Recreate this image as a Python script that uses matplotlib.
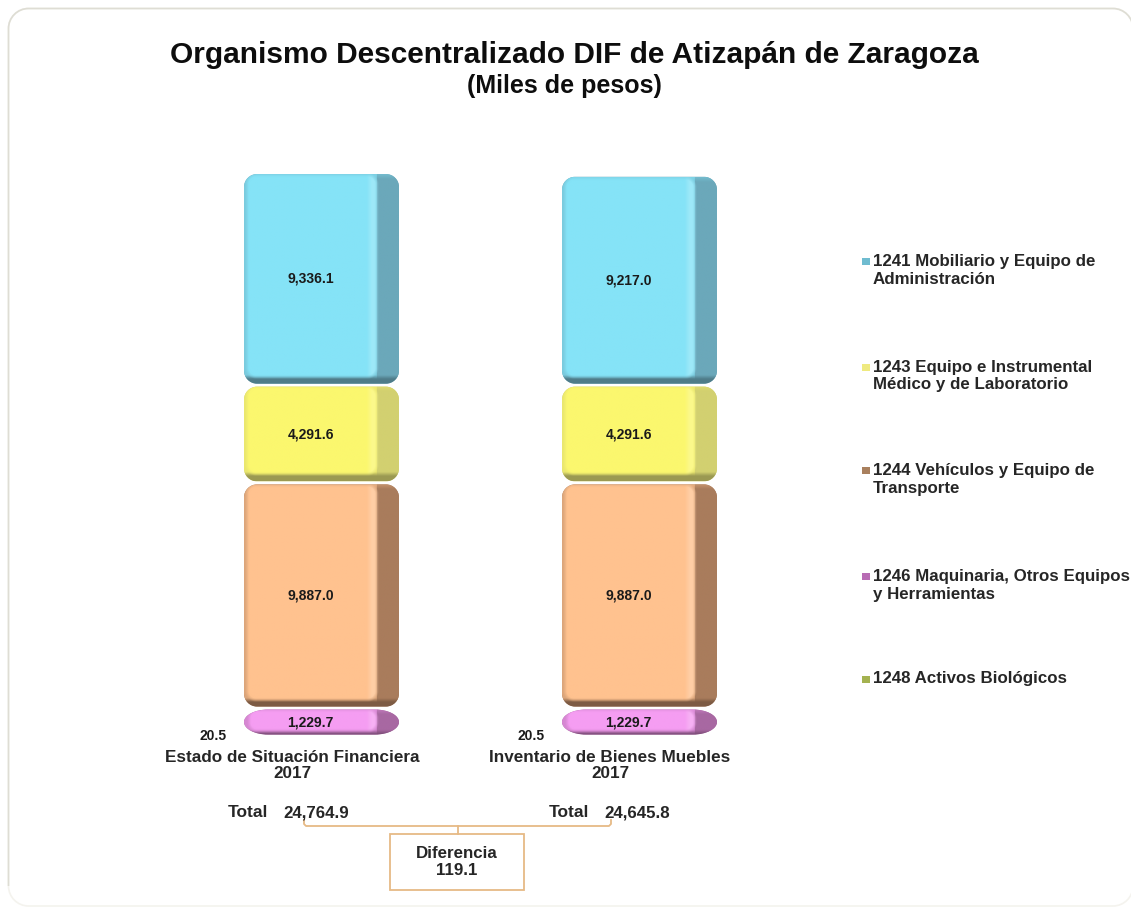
import numpy as np
import matplotlib
matplotlib.use("Agg")
import matplotlib.pyplot as plt
from matplotlib.patches import PathPatch, Rectangle
from matplotlib.path import Path
from matplotlib.colors import to_rgb

plt.rcParams['font.family'] = ['Liberation Sans', 'DejaVu Sans']

# ---- data ----
categories = ["Estado de Situación Financiera\n2017", "Inventario de Bienes Muebles\n2017"]
series_names = ["1241 Mobiliario y Equipo de\nAdministración",
                "1243 Equipo e Instrumental\nMédico y de Laboratorio",
                "1244 Vehículos y Equipo de\nTransporte",
                "1246 Maquinaria, Otros Equipos\ny Herramientas",
                "1248 Activos Biológicos"]
v1241 = [9336.1, 9217.0]
v1243 = [4291.6, 4291.6]
v1244 = [9887.0, 9887.0]
v1246 = [1229.7, 1229.7]
v1248 = [20.5, 20.5]
totals = ["24,764.9", "24,645.8"]
difference = "119.1"

front = ["#85E3F7", "#FBF76E", "#FFC28F", "#F59DF2", "#C9D65A"]
side = ["#6BA8BA", "#D2D070", "#A97C5C", "#A868A2", "#8C9A40"]
marker = ["#6FBCD0", "#EFEA80", "#A9805E", "#B86CB4", "#A4B250"]
text_dark = "#1A1A1A"
text_grey = "#262626"

W, H = 1131, 910
fig = plt.figure(figsize=(W/100, H/100), dpi=100, facecolor="white")
px = fig.add_axes([0, 0, 1, 1], zorder=0)
px.set_xlim(0, W); px.set_ylim(H, 0); px.axis("off")


def rounded_path(x0, y0, x1, y1, rx, ry):
    k = 0.5523
    v = [(x0 + rx, y0), (x1 - rx, y0),
         (x1 - rx + k*rx, y0), (x1, y0 + ry - k*ry), (x1, y0 + ry),
         (x1, y1 - ry),
         (x1, y1 - ry + k*ry), (x1 - rx + k*rx, y1), (x1 - rx, y1),
         (x0 + rx, y1),
         (x0 + rx - k*rx, y1), (x0, y1 - ry + k*ry), (x0, y1 - ry),
         (x0, y0 + ry),
         (x0, y0 + ry - k*ry), (x0 + rx - k*rx, y0), (x0 + rx, y0),
         (x0 + rx, y0)]
    c = [Path.MOVETO, Path.LINETO, Path.CURVE4, Path.CURVE4, Path.CURVE4, Path.LINETO,
         Path.CURVE4, Path.CURVE4, Path.CURVE4, Path.LINETO, Path.CURVE4, Path.CURVE4,
         Path.CURVE4, Path.LINETO, Path.CURVE4, Path.CURVE4, Path.CURVE4, Path.CLOSEPOLY]
    return Path(v, c)


# card: faint full outline, stronger top and left edges
px.add_patch(PathPatch(rounded_path(8.5, 8.5, 1133, 906, 20, 20), fc="#FFFFFF", ec="#F4F3EE", lw=1.2))
k20 = 20 * 0.5523
edge_path = Path([(8.5, 886), (8.5, 28.5), (8.5, 28.5 - k20), (28.5 - k20, 8.5), (28.5, 8.5),
                  (1113, 8.5), (1113 + k20, 8.5), (1133, 28.5 - k20), (1133, 28.5)],
                 [Path.MOVETO, Path.LINETO, Path.CURVE4, Path.CURVE4, Path.CURVE4,
                  Path.LINETO, Path.CURVE4, Path.CURVE4, Path.CURVE4])
px.add_patch(PathPatch(edge_path, fc="none", ec="#DEDDD4", lw=1.2))

# data axes: category spacing and value scale
ax = fig.add_axes([162.5/W, 1-736.5/H, 636/W, 569.3/H], zorder=1)
ax.set_xlim(-0.5, 1.5); ax.set_ylim(0, 25000); ax.axis("off"); ax.patch.set_alpha(0)

x = np.arange(2)
bottom = np.array(v1248, float)
stack = {}
for i in [4, 3, 2, 1, 0]:
    vals = np.array([v1241, v1243, v1244, v1246, v1248][i], float)
    b = np.zeros(2) if i == 4 else bottom
    stack[i] = ax.bar(x, vals, bottom=b, width=0.4874, color=front[i], visible=False)
    if i != 4:
        bottom = b + vals


def mix(a, b, t):
    t = np.clip(t, 0, 1)[..., None]
    return a * (1 - t) + b * t


def draw_segment(x0, y0, x1, y1, fc, sc):
    sidew = 22
    h = y1 - y0
    pill = h < 40
    rx = 24 if pill else 13
    ry = h / 2 if pill else 13
    fc_rgb, sc_rgb = np.array(to_rgb(fc)), np.array(to_rgb(sc))
    body = PathPatch(rounded_path(x0, y0, x1, y1, rx, ry), fc=sc, ec="none", zorder=2)
    px.add_patch(body)
    w_i, h_i = int(x1 - x0), max(int(h), 2)
    fw = w_i - sidew
    xx, yy = np.meshgrid(np.arange(w_i) + .5, np.arange(h_i) + .5)
    # inner front face as a rounded box, expressed by its signed distance
    l, t_, r_, b_ = (5, 1, fw, h_i - 4) if pill else (3, 1, fw, h_i - 7)
    rad = 8 if pill else 9
    cx, cy = (l + r_) / 2, (t_ + b_) / 2
    qx = np.abs(xx - cx) - (r_ - l) / 2 + rad
    qy = np.abs(yy - cy) - (b_ - t_) / 2 + rad
    d = np.hypot(np.maximum(qx, 0), np.maximum(qy, 0)) + np.minimum(np.maximum(qx, qy), 0) - rad
    # colours outside the front face
    outer = np.broadcast_to(sc_rgb, xx.shape + (3,)).copy()
    outer = mix(outer, fc_rgb * 0.6 + sc_rgb * 0.4, (xx < fw) * 1.0)
    outer = mix(outer, fc_rgb, 0.35 * (1 - yy / 5))
    lower = np.clip((yy - (h_i - (5 if pill else 9))) / 4, 0, 1)
    outer = mix(outer, sc_rgb * 0.74, lower)
    # colours on the front face
    face = np.broadcast_to(fc_rgb, xx.shape + (3,)).copy()
    face = mix(face, np.ones(3), 0.2 * np.clip((xx - (fw - 10)) / 5, 0, 1))
    m = np.clip(0.5 - d / 4, 0, 1) ** 1.2
    img = mix(outer, face, m)
    im = px.imshow(img, extent=(x0, x1, y1, y0), aspect="auto", zorder=3, interpolation="bilinear")
    im.set_clip_path(body)
    px.set_xlim(0, W); px.set_ylim(H, 0)


labels = {0: v1241, 1: v1243, 2: v1244, 3: v1246}
for i in range(4):
    for j, rect in enumerate(stack[i]):
        (xa, ya) = ax.transData.transform((rect.get_x(), rect.get_y()))
        (xb, yb) = ax.transData.transform((rect.get_x() + rect.get_width(), rect.get_y() + rect.get_height()))
        draw_segment(xa, H - yb + 1.5, xb, H - ya - 1.5, front[i], side[i])
        xm = rect.get_x() + rect.get_width() * 0.43
        ym = rect.get_y() + rect.get_height() / 2
        ax.text(xm, ym, f"{labels[i][j]:,.1f}", ha="center", va="center", fontsize=10,
                fontweight="bold", color=text_dark, zorder=6)

# small-value labels and category labels
for j in range(2):
    ax.annotate(f"{v1248[j]:.1f}", (x[j], 0), xytext=(-108, 0), textcoords="offset pixels",
                ha="center", va="center", fontsize=10, fontweight="bold", color=text_dark)
    px.text(ax.transData.transform((x[j], 0))[0] - 29.5, 765.5, categories[j], ha="center", va="center",
            fontsize=12.3, fontweight="bold", color=text_grey, linespacing=1.1, zorder=5)

# title
px.text(574.5, 55, "Organismo Descentralizado DIF de Atizapán de Zaragoza", ha="center", va="center",
        fontsize=21.5, fontweight="bold", color="#0D0D0D")
px.text(564, 86, "(Miles de pesos)", ha="center", va="center", fontsize=18,
        fontweight="bold", color="#0D0D0D")

# legend
leg_y = [270.5, 376, 479.5, 585.5, 679]
for name, my, m in zip(series_names, leg_y, marker):
    n = name.count("\n")
    first = my - (9 if n else 0)
    px.add_patch(Rectangle((862, first - 3.5), 8, 7, fc=m, ec="none"))
    px.text(873, my, name, ha="left", va="center", fontsize=12.2, fontweight="bold",
            color=text_grey, linespacing=1.18)

# totals and difference
for tx, total in zip([248, 569], totals):
    px.text(tx, 817, "Total", ha="center", va="baseline", fontsize=12.5, fontweight="bold", color=text_grey)
    px.text(tx + 68, 817, total, ha="center", va="baseline", fontsize=12.2, fontweight="bold", color=text_grey)
line = "#E6BA86"
px.plot([304, 304, 306, 609, 611, 611], [820, 824, 826, 826, 824, 820], color=line, lw=1.3)
px.plot([458, 458], [826, 834], color=line, lw=1.3)
px.add_patch(Rectangle((390, 834), 134, 56, fc="white", ec=line, lw=1.3))
px.text(457, 862, "Diferencia\n" + difference, ha="center", va="center", fontsize=12.2,
        fontweight="bold", color=text_grey, linespacing=1.22)

fig.savefig("out.png", dpi=100)
